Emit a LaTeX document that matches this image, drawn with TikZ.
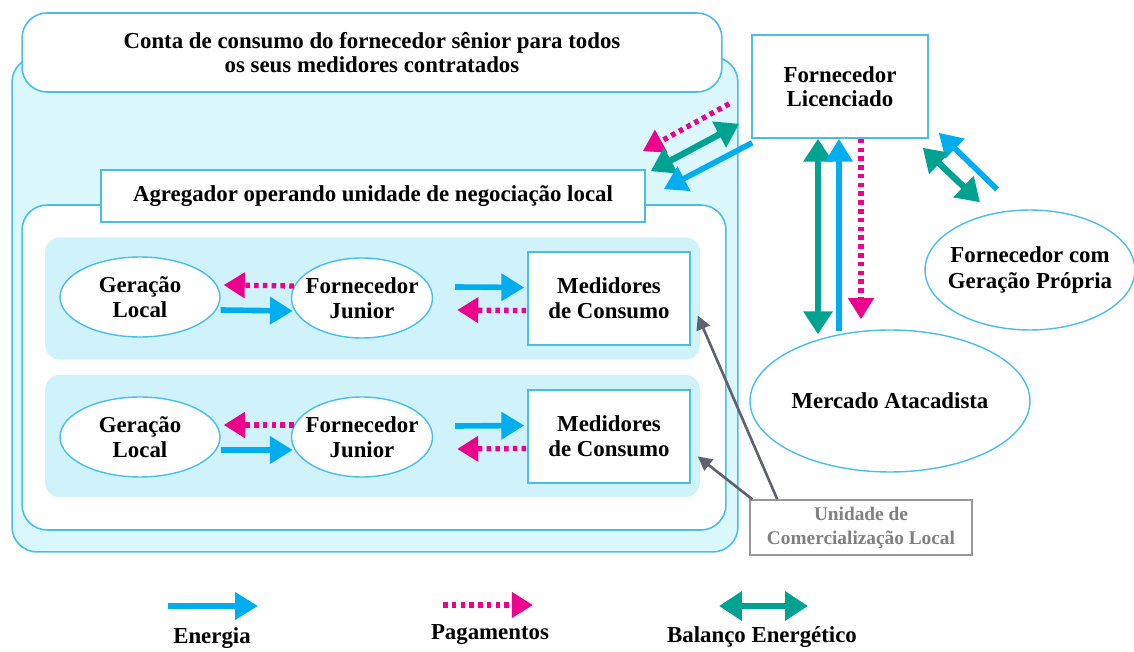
\documentclass[tikz,border=0pt]{standalone}
\usepackage{fontspec}
\setmainfont{Liberation Serif}
\usetikzlibrary{shapes.geometric,arrows.meta,calc}

\definecolor{borda}{RGB}{75,190,232}
\definecolor{fundo}{RGB}{218,248,253}
\definecolor{corfaixa}{RGB}{208,243,251}
\definecolor{azul}{RGB}{0,174,239}
\definecolor{verde}{RGB}{0,163,145}
\definecolor{rosa}{RGB}{236,0,140}
\definecolor{cinza}{RGB}{95,98,108}

\begin{document}
\begin{tikzpicture}[
    x=0.02cm, y=-0.02cm,
    caixa/.style={draw=borda, fill=white, line width=0.9pt, align=center, font=\bfseries\fontsize{13}{14}\selectfont},
    oval/.style={ellipse, draw=borda, fill=white, line width=0.8pt, inner xsep=-0.4cm, inner ysep=0pt, align=center, font=\bfseries\fontsize{13}{14.5}\selectfont},
    bloco/.style={draw=borda, rounded corners=0.5cm, line width=0.9pt},
    faixa/.style={fill=corfaixa, rounded corners=0.3cm, minimum width=13.1cm, minimum height=2.45cm},
    energia/.style={-{Triangle[length=13pt,width=15pt]}, azul, line width=3.2pt},
    pagamento/.style={-{Triangle[length=12pt,width=14pt]}, rosa, line width=3pt, dash pattern=on 2.6pt off 2.4pt},
    balanco/.style={{Triangle[length=13pt,width=16pt]}-{Triangle[length=13pt,width=16pt]}, verde, line width=3.6pt},
    seta/.style={-{Triangle[length=8pt,width=8pt]}, cinza, line width=1.5pt},
    legenda/.style={font=\bfseries\fontsize{13}{14}\selectfont}
]
\useasboundingbox (0,0) rectangle (1134,652);

% Blocos de fundo
\node[bloco, fill=fundo, minimum width=14.52cm, minimum height=9.9cm] (conta) at (375,304.5) {};
\node[caixa, rounded corners=0.5cm, minimum width=14cm, minimum height=1.58cm] (titulo) at (372,52.5) {Conta de consumo do fornecedor sênior para todos\\os seus medidores contratados};
\node[bloco, fill=white, minimum width=14.08cm, minimum height=6.5cm] (interno) at (374,367.5) {};
\node[caixa, minimum width=10.88cm, minimum height=1.04cm] (agreg) at (373,196) {Agregador operando unidade de negociação local};
\node[faixa] (linha1) at (372.5,298.5) {};
\node[faixa] (linha2) at (372.5,436) {};

% Define node positions
\node[oval, minimum width=3.2cm, minimum height=1.6cm] (ger1) at (140,297) {Geração\\Local};
\node[oval, minimum width=2.82cm, minimum height=1.6cm] (forn1) at (362,298) {Fornecedor\\Junior};
\node[caixa, minimum width=3.24cm, minimum height=1.86cm] (med1) at (609,298.5) {Medidores\\de Consumo};
\node[oval, minimum width=3.2cm, minimum height=1.6cm] (ger2) at (140,437) {Geração\\Local};
\node[oval, minimum width=2.82cm, minimum height=1.6cm] (forn2) at (362,437) {Fornecedor\\Junior};
\node[caixa, minimum width=3.24cm, minimum height=1.86cm] (med2) at (609,436.5) {Medidores\\de Consumo};

\node[caixa, minimum width=3.52cm, minimum height=2.06cm] (licen) at (840,86.5) {Fornecedor\\Licenciado};
\node[oval, minimum width=4.2cm, minimum height=2.4cm] (propria) at (1030,270) {Fornecedor com\\Geração Própria};
\node[oval, minimum width=5.6cm, minimum height=2.84cm] (atacado) at (890,401) {Mercado Atacadista};
\node[draw=gray!80, line width=0.9pt, fill=white, text=gray, align=center, font=\bfseries\fontsize{11}{13.5}\selectfont, minimum width=4.44cm, minimum height=1.1cm] (unidade) at (861,527.5) {Unidade de\\Comercialização Local};

% Fluxos dentro das unidades
\draw[pagamento] ($(forn1.west)+(3,-12)$) -- ($(ger1.east)+(3,-12)$);
\draw[energia] ($(ger1.east)+(0,13)$) -- ($(forn1.west)+(2,13)$);
\draw[energia] ($(forn1.east)+(22,-11)$) -- ($(med1.west)+(-3,-11)$);
\draw[pagamento] ($(med1.west)+(-1,12)$) -- ($(forn1.east)+(24,12)$);

\draw[pagamento] ($(forn2.west)+(3,-12)$) -- ($(ger2.east)+(3,-12)$);
\draw[energia] ($(ger2.east)+(0,13)$) -- ($(forn2.west)+(2,13)$);
\draw[energia] ($(forn2.east)+(22,-11)$) -- ($(med2.west)+(-3,-11)$);
\draw[pagamento] ($(med2.west)+(-1,12)$) -- ($(forn2.east)+(24,12)$);

% Fornecedor licenciado e agregador
\draw[pagamento] ($(licen.south west)+(-22,-35)$) -- ($(agreg.north east)+(-3,-18)$);
\draw[balanco] ($(licen.south west)+(-12,-15)$) -- ($(agreg.north east)+(5,2)$);
\draw[energia] ($(licen.south west)+(1,4)$) -- ($(agreg.north east)+(18,20)$);

% Fornecedor licenciado e mercado
\draw[balanco] ($(licen.south)+(-22,0)$) -- ($(atacado.north)+(-72,5)$);
\draw[energia] ($(atacado.north)+(-51,2)$) -- ($(licen.south)+(-1,0)$);
\draw[pagamento] ($(licen.south)+(21,0)$) -- ($(atacado.north)+(-29,-10)$);

% Fornecedor com geracao propria
\draw[energia] ($(propria.north)+(-33,-20)$) -- ($(licen.south east)+(10,-6)$);
\draw[balanco] ($(licen.south east)+(-6,9)$) -- ($(propria.north)+(-50,-7)$);

% Unidade de comercializacao
\draw[seta] ($(unidade.north west)+(28,0)$) -- ($(med1.east)+(7,17)$);
\draw[seta] ($(unidade.north west)+(3,0)$) -- ($(med2.east)+(7,20)$);

% Legenda
\coordinate (e0) at (168,606);
\coordinate (e1) at (258,606);
\coordinate (p0) at (443,605);
\coordinate (p1) at (533,605);
\coordinate (b0) at (719,606);
\coordinate (b1) at (808,606);
\draw[energia] (e0) -- (e1);
\draw[pagamento] (p0) -- (p1);
\draw[balanco] (b0) -- (b1);
\node[legenda] (lenergia) at (212,638) {Energia};
\node[legenda] (lpagamento) at (490,635) {Pagamentos};
\node[legenda] (lbalanco) at (762,637) {Balanço Energético};

\end{tikzpicture}
\end{document}
